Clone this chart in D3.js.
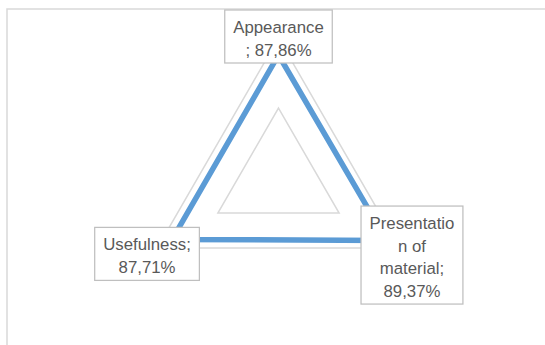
<!DOCTYPE html>
<html>
<head>
<meta charset="utf-8">
<script src="https://cdn.jsdelivr.net/npm/d3@7"></script>
<style>
  html, body { margin: 0; padding: 0; background: #ffffff; }
  svg { display: block; }
</style>
</head>
<body>
<svg id="chart" width="545" height="345"></svg>
<script>
// ---- data ----
const categories = ["Appearance", "Presentation of material", "Usefulness"];
const values = [0.8786, 0.8937, 0.8771];
const ringTicks = [0.5, 1.0];
const axisMax = 1.0;

// ---- layout ----
const W = 545, H = 345;
const cx = 278.5, cy = 178, R = 140;
const fontFamily = "'Liberation Sans', Arial, sans-serif";
const fontSize = 16.8;
const lineH = 22.5;
const maxLabelW = 93;

const svg = d3.select("#chart");

// chart area
svg.append("rect")
  .attr("x", 7).attr("y", 9)
  .attr("width", W + 20).attr("height", H + 20)
  .attr("fill", "#ffffff")
  .attr("stroke", "#d9d9d9")
  .attr("stroke-width", 1.5);

const r = d3.scaleLinear().domain([0, axisMax]).range([0, R]);
const angle = d3.scaleLinear().domain([0, categories.length]).range([0, 2 * Math.PI]);

const g = svg.append("g").attr("transform", `translate(${cx},${cy})`);

const radial = d3.lineRadial()
  .angle(d => angle(d.i))
  .radius(d => r(d.v))
  .curve(d3.curveLinearClosed);

// grid rings
g.selectAll("path.ring")
  .data(ringTicks)
  .join("path")
  .attr("class", "ring")
  .attr("d", t => radial(categories.map((c, i) => ({ i, v: t }))))
  .attr("fill", "none")
  .attr("stroke", "#d9d9d9")
  .attr("stroke-width", 1.5);

// data series
const pts = categories.map((c, i) => ({ i, v: values[i], c }));
g.append("path")
  .attr("d", radial(pts))
  .attr("fill", "none")
  .attr("stroke", "#5b9bd5")
  .attr("stroke-width", 5.5)
  .attr("stroke-linejoin", "round");

// ---- labels ----
const fmt = v => d3.format(".2f")(v * 100).replace(".", ",") + "%";

const measure = svg.append("text")
  .attr("font-family", fontFamily)
  .attr("font-size", fontSize)
  .attr("visibility", "hidden");
function tw(s) { measure.text(s); return measure.node().getComputedTextLength(); }

function wrap(text) {
  const words = text.split(" ");
  const lines = [];
  let cur = "";
  for (const w of words) {
    const cand = cur ? cur + " " + w : w;
    if (tw(cand) <= maxLabelW) { cur = cand; continue; }
    if (cur) { lines.push(cur); cur = ""; }
    if (tw(w) <= maxLabelW) { cur = w; continue; }
    // break long word by characters
    let rest = w;
    while (tw(rest) > maxLabelW) {
      let k = rest.length;
      while (k > 1 && tw(rest.slice(0, k)) > maxLabelW) k--;
      lines.push(rest.slice(0, k));
      rest = rest.slice(k);
    }
    cur = rest;
  }
  if (cur) lines.push(cur);
  return lines;
}

const labelG = svg.append("g");
pts.forEach(p => {
  const a = angle(p.i);
  const dx = Math.sin(a), dy = -Math.cos(a);
  const px = cx + r(p.v) * dx, py = cy + r(p.v) * dy;
  const lines = wrap(p.c + "; " + fmt(p.v));
  const wMax = d3.max(lines, tw);
  const bw = wMax + 17, bh = lines.length * lineH + 8;
  const off = 29;
  let bcx = px + off * dx, bcy = py + off * dy;
  let top = bcy - bh / 2;
  if (top < 10) top = 10;
  const left = bcx - bw / 2;
  const lg = labelG.append("g");
  lg.append("rect")
    .attr("x", left).attr("y", top)
    .attr("width", bw).attr("height", bh)
    .attr("fill", "#ffffff")
    .attr("stroke", "#bfbfbf")
    .attr("stroke-width", 1.25);
  lg.selectAll("text")
    .data(lines)
    .join("text")
    .attr("x", bcx)
    .attr("y", (d, k) => top + 23 + k * lineH)
    .attr("text-anchor", "middle")
    .attr("font-family", fontFamily)
    .attr("font-size", fontSize)
    .attr("fill", "#595959")
    .text(d => d);
});
measure.remove();
</script>
</body>
</html>
